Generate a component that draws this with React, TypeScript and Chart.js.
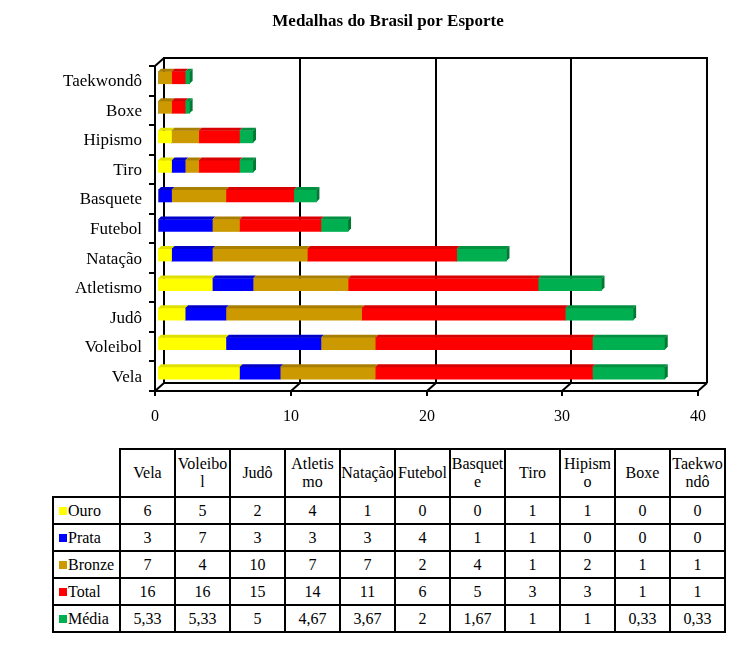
import React, { useEffect, useRef } from "react";
import { Chart, registerables } from "chart.js";

Chart.register(...registerables);

const title = "Medalhas do Brasil por Esporte";
const categories = ["Vela", "Voleibol", "Judô", "Atletismo", "Natação", "Futebol", "Basquete", "Tiro", "Hipismo", "Boxe", "Taekwondô"];
const headerLabels = [["Vela"], ["Voleibo", "l"], ["Judô"], ["Atletis", "mo"], ["Natação"], ["Futebol"], ["Basquet", "e"], ["Tiro"], ["Hipism", "o"], ["Boxe"], ["Taekwo", "ndô"]];
const ouro = [6, 5, 2, 4, 1, 0, 0, 1, 1, 0, 0];
const prata = [3, 7, 3, 3, 3, 4, 1, 1, 0, 0, 0];
const bronze = [7, 4, 10, 7, 7, 2, 4, 1, 2, 1, 1];
const total = [16, 16, 15, 14, 11, 6, 5, 3, 3, 1, 1];
const media = [5.33, 5.33, 5, 4.67, 3.67, 2, 1.67, 1, 1, 0.33, 0.33];
const seriesNames = ["Ouro", "Prata", "Bronze", "Total", "Média"];
const seriesValues = [ouro, prata, bronze, total, media];
const xTicks = [0, 10, 20, 30, 40];

const seriesColors = ["#FFFF00", "#0000FF", "#CC9900", "#FF0000", "#00B050"];
const topColors = ["#E0E000", "#0000C8", "#A87E00", "#D80000", "#009040"];
const sideColors = ["#B8B800", "#0000A0", "#8C6900", "#B00000", "#007A33"];

const SERIF = '"Liberation Serif", "Times New Roman", serif';

const frame3d = {
  id: "frame3d",
  beforeDatasetsDraw(chart: any) {
    const { ctx, chartArea: a, scales } = chart;
    const xs = scales.x;
    const ys = scales.y;
    const fdx = -3, fdy = 3, bdx = 6, bdy = -5;
    const bx = (v: number) => Math.round(xs.getPixelForValue(v)) + bdx;
    const fx = (v: number) => Math.round(xs.getPixelForValue(v)) + fdx;
    const bt = a.top + bdy, bb = a.bottom + bdy, ft = a.top + fdy, fb = a.bottom + fdy;
    ctx.save();
    ctx.strokeStyle = "#000";
    ctx.lineWidth = 2;
    const line = (x1: number, y1: number, x2: number, y2: number) => {
      ctx.beginPath();
      ctx.moveTo(x1, y1);
      ctx.lineTo(x2, y2);
      ctx.stroke();
    };
    // back wall
    line(bx(0) - 1, bt, bx(40) + 1, bt);
    xTicks.forEach((v) => line(bx(v), bt, bx(v), bb));
    line(bx(0), bb, bx(40), bb);
    // left side wall
    line(fx(0), ft, fx(0), fb);
    line(fx(0), ft, bx(0), bt);
    // floor front edge + depth lines + ticks
    line(fx(0) - 1, fb, fx(40), fb);
    xTicks.forEach((v) => {
      line(fx(v), fb, bx(v), bb);
      line(fx(v), fb, fx(v), fb + 5);
    });
    const n = categories.length;
    for (let k = 0; k <= n; k++) {
      const yy = Math.round(a.top + (k * (a.bottom - a.top)) / n) + fdy;
      line(fx(0) - 6, yy, fx(0), yy);
    }
    // labels
    ctx.fillStyle = "#000";
    ctx.textBaseline = "middle";
    ctx.textAlign = "center";
    ctx.font = "16px " + SERIF;
    xTicks.forEach((v) => ctx.fillText(String(v), fx(v), fb + 26));
    ctx.textAlign = "right";
    ctx.font = "17px " + SERIF;
    categories.forEach((c, i) => ctx.fillText(c, 142, ys.getPixelForValue(i) + 4));
    ctx.textAlign = "center";
    ctx.font = "bold 17px " + SERIF;
    ctx.fillText(title, 388, 22);
    ctx.restore();
  },
  afterDatasetsDraw(chart: any) {
    const { ctx } = chart;
    const d = 3;
    ctx.save();
    const lastEnd: Record<number, any> = {};
    chart.data.datasets.forEach((_: any, di: number) => {
      const meta = chart.getDatasetMeta(di);
      meta.data.forEach((el: any, i: number) => {
        const { x, y, base, height } = el.getProps(["x", "y", "base", "height"], true);
        if (Math.abs(x - base) < 0.5) return;
        const top = y - height / 2;
        ctx.fillStyle = topColors[di];
        ctx.beginPath();
        ctx.moveTo(base, top);
        ctx.lineTo(base + d, top - d);
        ctx.lineTo(x + d, top - d);
        ctx.lineTo(x, top);
        ctx.closePath();
        ctx.fill();
        lastEnd[i] = { x, top, bottom: y + height / 2, di };
      });
    });
    Object.values(lastEnd).forEach((e: any) => {
      ctx.fillStyle = sideColors[e.di];
      ctx.beginPath();
      ctx.moveTo(e.x, e.top);
      ctx.lineTo(e.x + d, e.top - d);
      ctx.lineTo(e.x + d, e.bottom - d);
      ctx.lineTo(e.x, e.bottom);
      ctx.closePath();
      ctx.fill();
    });
    ctx.restore();
  },
};

const colX = [53, 120, 175, 230, 285, 340, 395, 450, 505, 560, 615, 670, 725];
const rowY = [449, 497, 524, 551, 578, 605, 632];

const fmt = (v: number) => String(v).replace(".", ",");

export default function App() {
  const canvasRef = useRef<HTMLCanvasElement | null>(null);

  useEffect(() => {
    const canvas = canvasRef.current;
    if (!canvas) return;
    const chart = new Chart(canvas, {
      type: "bar",
      data: {
        labels: categories,
        datasets: seriesNames.map((name, i) => ({
          label: name,
          data: seriesValues[i],
          backgroundColor: seriesColors[i],
          borderWidth: 0,
          barThickness: 12,
        })),
      },
      options: {
        indexAxis: "y",
        responsive: false,
        animation: false,
        layout: { padding: { left: 158, right: 44, top: 63, bottom: 262 } },
        scales: {
          x: { display: false, stacked: true, min: 0, max: 40 },
          y: { display: false, stacked: true, reverse: true },
        },
        plugins: {
          legend: { display: false },
          title: { display: false },
          tooltip: { enabled: false },
        },
      } as any,
      plugins: [frame3d],
    });
    return () => chart.destroy();
  }, []);

  const cell = (key: string, ci: number, ri: number, content: React.ReactNode, extra: React.CSSProperties = {}) => (
    <div
      key={key}
      style={{
        position: "absolute",
        left: colX[ci] - 1,
        top: rowY[ri] - 1,
        width: colX[ci + 1] - colX[ci] + 2,
        height: rowY[ri + 1] - rowY[ri] + 2,
        border: "2px solid #000",
        boxSizing: "border-box",
        display: "flex",
        alignItems: "center",
        justifyContent: "center",
        textAlign: "center",
        whiteSpace: "nowrap",
        fontFamily: SERIF,
        fontSize: 16,
        lineHeight: "18px",
        color: "#000",
        background: "#fff",
        ...extra,
      }}
    >
      {content}
    </div>
  );

  const cells: React.ReactNode[] = [];
  headerLabels.forEach((lines, i) => {
    cells.push(
      cell(
        "h" + i,
        i + 1,
        0,
        <div>
          {lines.map((l, k) => (
            <div key={k}>{l}</div>
          ))}
        </div>
      )
    );
  });
  seriesNames.forEach((name, r) => {
    cells.push(
      cell(
        "l" + r,
        0,
        r + 1,
        <>
          <span style={{ display: "inline-block", width: 8, height: 8, background: seriesColors[r], marginRight: 1 }} />
          <span>{name}</span>
        </>,
        { justifyContent: "flex-start", paddingLeft: 5 }
      )
    );
    seriesValues[r].forEach((v, i) => {
      cells.push(cell("c" + r + "_" + i, i + 1, r + 1, fmt(v)));
    });
  });

  return (
    <div style={{ position: "absolute", left: 0, top: 0, width: 745, height: 650, background: "#fff" }}>
      <canvas ref={canvasRef} width={745} height={650} style={{ display: "block", width: 745, height: 650 }} />
      {cells}
    </div>
  );
}
